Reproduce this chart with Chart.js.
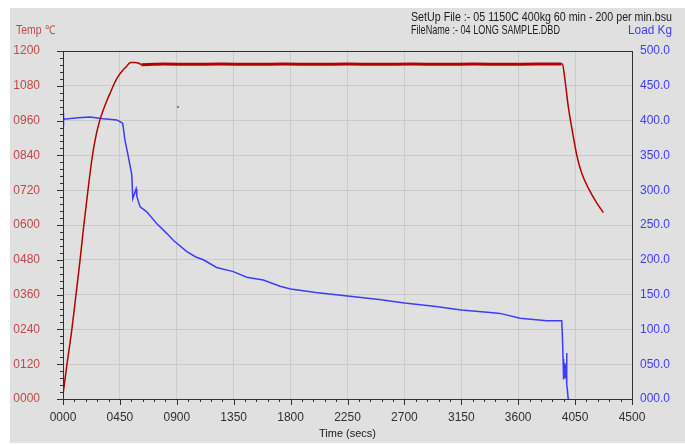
<!DOCTYPE html>
<html>
<head>
<meta charset="utf-8">
<script src="https://cdn.jsdelivr.net/npm/chart.js@4.4.0/dist/chart.umd.min.js"></script>
<style>
  html, body { margin: 0; padding: 0; background: #ffffff; }
  #chart { display: block; }
</style>
</head>
<body>
<canvas id="chart" width="685" height="445"></canvas>
<script>
// Temperatura del horno (eje izquierdo)
const tempTime = [0, 30, 70, 100, 135, 165, 197, 228, 255, 285, 320, 350, 380, 410, 440, 470, 500, 520, 535, 565, 600, 620,
  800, 1000, 1250, 1500, 1750, 2000, 2250, 2500, 2750, 3000, 3250, 3500, 3750, 3940,
  3949, 3970, 3996, 4031, 4063, 4102, 4155, 4221, 4273];
const tempValue = [15, 115, 240, 350, 480, 600, 718, 825, 895, 952, 998, 1032, 1062, 1092, 1115, 1132, 1146, 1156, 1160, 1160, 1158, 1153,
  1155, 1154, 1155, 1154, 1155, 1154, 1155, 1154, 1155, 1154, 1155, 1154, 1155, 1155,
  1156, 1100, 1008, 917, 841, 779, 727, 676, 643];

// Carga (eje derecho)
const loadTime = [0, 2, 4, 6, 10, 60, 120, 214, 300, 425, 455, 472, 490, 517, 544, 552, 565, 578, 584, 610,
  662, 741, 820, 872, 977, 1050, 1110, 1215, 1347, 1453, 1584, 1716, 1800, 2000, 2250, 2500, 2700,
  2950, 3150, 3400, 3456, 3615, 3826, 3944, 3949, 3955, 3957, 3959, 3961, 3963, 3965, 3967, 3969, 3971,
  3973, 3975, 3977, 3980, 3983, 3985, 3988, 3995, 3997];
const loadValue = [400, 411, 391, 404, 402, 403, 404, 405, 403, 401, 398, 396, 372, 348, 322, 288, 295, 302, 291, 276,
  269, 252, 238, 228, 212, 204, 200, 189, 183, 175, 171, 162, 158, 153, 148, 143, 138,
  133, 128, 124, 123, 116, 112.5, 112.5, 94, 58, 30, 55, 28, 52, 32, 48, 30, 50,
  35, 45, 30, 38, 66, 20, 15, 1, 0];

// Punto suelto de temperatura
const strayTime = [910];
const strayValue = [1007];

// Etiquetas de los ejes
const xTickLabels = ["0000", "0450", "0900", "1350", "1800", "2250", "2700", "3150", "3600", "4050", "4500"];
const tempTickLabels = ["0000", "0120", "0240", "0360", "0480", "0600", "0720", "0840", "0960", "1080", "1200"];
const loadTickLabels = ["000.0", "050.0", "100.0", "150.0", "200.0", "250.0", "300.0", "350.0", "400.0", "450.0", "500.0"];

const FONT = "'Liberation Sans Narrow', 'Liberation Sans', Arial, sans-serif";
const RED = "#b40000";
const RED_TEXT = "#c04848";
const BLUE = "#3c3cff";

// Fondo, marco, marcas menores y textos de cabecera
const decoPlugin = {
  id: "deco",
  beforeDraw(chart) {
    const ctx = chart.ctx;
    ctx.save();
    ctx.fillStyle = "#ffffff";
    ctx.fillRect(0, 0, chart.width, chart.height);
    ctx.fillStyle = "#e0e0e0";
    ctx.fillRect(10, 8, chart.width - 10, chart.height - 10);
    ctx.restore();
  },
  afterDraw(chart) {
    const ctx = chart.ctx;
    const a = chart.chartArea;
    const xs = chart.scales.x;
    const ys = chart.scales.y;
    ctx.save();
    ctx.strokeStyle = "#303030";
    ctx.lineWidth = 1;
    ctx.strokeRect(Math.round(a.left) + 0.5, Math.round(a.top) + 0.5,
      Math.round(a.right - a.left), Math.round(a.bottom - a.top));

    ctx.beginPath();
    for (let i = 0; i <= 50; i++) {
      const px = Math.round(xs.getPixelForValue(i * 90)) + 0.5;
      const len = i % 5 === 0 ? 6 : 3;
      ctx.moveTo(px, a.bottom);
      ctx.lineTo(px, a.bottom + len);
    }
    for (let i = 0; i <= 50; i++) {
      const py = Math.round(ys.getPixelForValue(i * 24)) + 0.5;
      const len = i % 5 === 0 ? 6 : 3;
      ctx.moveTo(a.left, py);
      ctx.lineTo(a.left - len, py);
    }
    ctx.stroke();

    ctx.textBaseline = "middle";
    ctx.font = "12px " + FONT;
    ctx.fillStyle = "#202020";
    ctx.textAlign = "left";
    ctx.fillText("SetUp File :- 05 1150C 400kg 60 min - 200 per min.bsu", 411, 18, 261);
    ctx.fillText("FileName :- 04 LONG SAMPLE.DBD", 411, 31, 149);
    ctx.fillStyle = RED_TEXT;
    ctx.fillText("Temp \u2103", 16, 31, 39);
    ctx.fillStyle = BLUE;
    ctx.fillText("Load Kg", 628, 31, 44);
    ctx.restore();
  }
};

function makePoints(xs, ys) {
  return xs.map((t, i) => ({ x: t, y: ys[i] }));
}

const chart = new Chart(document.getElementById("chart"), {
  type: "line",
  data: {
    datasets: [
      {
        label: "Temp",
        data: makePoints(tempTime, tempValue),
        yAxisID: "y",
        borderColor: RED,
        borderWidth: 1.5,
        pointRadius: 0,
        cubicInterpolationMode: "monotone",
        segment: {
          borderWidth: (c) => (c.p0.parsed.x > 610 && c.p1.parsed.x < 3945) ? 3 : 1.5
        }
      },
      {
        label: "Load",
        data: makePoints(loadTime, loadValue),
        yAxisID: "y1",
        borderColor: BLUE,
        borderWidth: 1.5,
        pointRadius: 0,
        tension: 0
      },
      {
        label: "Stray",
        data: makePoints(strayTime, strayValue),
        yAxisID: "y",
        showLine: false,
        pointRadius: 1,
        pointBackgroundColor: "#606060",
        pointBorderWidth: 0
      }
    ]
  },
  options: {
    responsive: false,
    animation: false,
    devicePixelRatio: 1,
    layout: { padding: { top: 51, left: 0, right: 0, bottom: 0 } },
    plugins: {
      legend: { display: false },
      tooltip: { enabled: false }
    },
    scales: {
      x: {
        type: "linear",
        min: 0,
        max: 4500,
        afterFit: (s) => { s.height = 46; },
        afterBuildTicks: (s) => { s.ticks = xTickLabels.map((_, i) => ({ value: i * 450 })); },
        grid: { color: "#cacaca", drawTicks: false },
        border: { display: false },
        ticks: {
          padding: 11,
          color: "#303030",
          font: { size: 12, family: FONT },
          maxRotation: 0,
          autoSkip: false,
          callback: (v, i) => xTickLabels[i]
        },
        title: {
          display: true,
          text: "Time (secs)",
          color: "#202020",
          font: { size: 11, family: FONT },
          padding: { top: 0, bottom: 4 }
        }
      },
      y: {
        position: "left",
        min: 0,
        max: 1200,
        afterFit: (s) => { s.width = 63; },
        afterBuildTicks: (s) => { s.ticks = tempTickLabels.map((_, i) => ({ value: i * 120 })); },
        grid: { color: "#cacaca", drawTicks: false },
        border: { display: false },
        ticks: {
          padding: 23,
          color: RED_TEXT,
          font: { size: 12, family: FONT },
          autoSkip: false,
          callback: (v, i) => tempTickLabels[i]
        }
      },
      y1: {
        position: "right",
        min: 0,
        max: 500,
        afterFit: (s) => { s.width = 53; },
        afterBuildTicks: (s) => { s.ticks = loadTickLabels.map((_, i) => ({ value: i * 50 })); },
        grid: { display: false, drawTicks: false },
        border: { display: false },
        ticks: {
          padding: 8,
          color: BLUE,
          font: { size: 12, family: FONT },
          autoSkip: false,
          callback: (v, i) => loadTickLabels[i]
        }
      }
    }
  },
  plugins: [decoPlugin]
});
</script>
</body>
</html>
